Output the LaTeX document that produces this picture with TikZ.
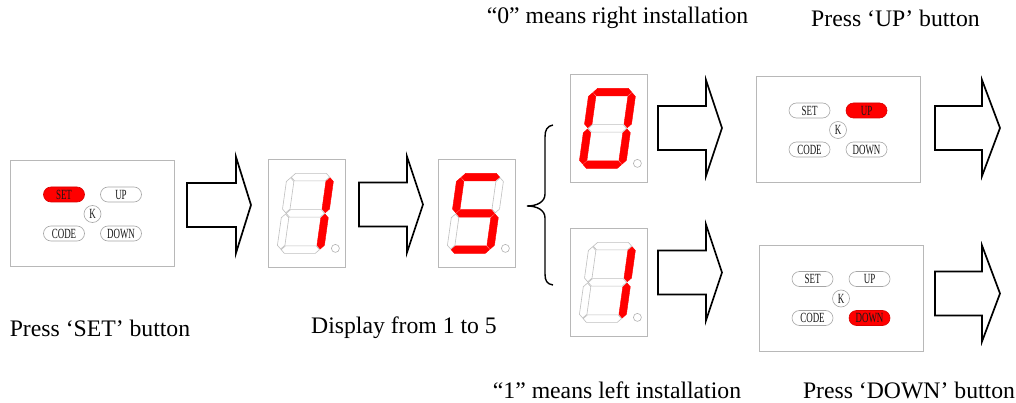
\documentclass[tikz,border=0pt]{standalone}
\usepackage{fontspec}
\setmainfont{Liberation Serif}
\newfontfamily\btnfont[FakeStretch=0.64]{Liberation Serif}
\tikzset{
  panel/.style={draw=black!28, line width=0.8, fill=white, inner sep=0, minimum width=164, minimum height=106},
  dispbox/.style={draw=black!28, line width=0.8, fill=white, inner sep=0, minimum width=77, minimum height=108, anchor=north west},
  btn/.style={draw=black!35, line width=0.6, rounded corners=7.5, minimum width=41, minimum height=15, inner sep=0, text=black!90, font=\btnfont\fontsize{14}{14}\selectfont},
  btnon/.style={btn, fill=red, draw=red!85!black},
  kbtn/.style={circle, draw=black!35, line width=0.6, minimum size=17, inner sep=0, text=black!90, font=\btnfont\fontsize{14}{14}\selectfont},
  segon/.style={fill=red, draw=red, line width=0.4},
  segoff/.style={fill=white, draw=black!25, line width=0.6},
  dp/.style={circle, draw=black!30, line width=0.6, minimum size=8, inner sep=0},
  barrow/.style={draw=black, line width=1.7, fill=white, miter limit=10},
  caption/.style={font=\fontsize{23.7}{28}\selectfont, inner sep=0},
  brace/.style={draw=black, line width=1.4}
}
% keypad: #1 name, #2 center, #3 SET style, #4 UP style, #5 DOWN style
\newcommand\keypad[5]{%
  \node[panel] (#1) at (#2) {};
  \node[#3] (#1set) at ($(#1.center)+(-28.5,-19)$) {SET};
  \node[#4] (#1up) at ($(#1.center)+(28.5,-19)$) {UP};
  \node[kbtn] (#1k) at ($(#1.center)+(0,0.5)$) {K};
  \node[btn] (#1code) at ($(#1.center)+(-28.5,20)$) {CODE};
  \node[#5] (#1down) at ($(#1.center)+(28.5,20)$) {DOWN};
}
% digit: #1 name, #2 top-left, #3 segment styles
\newcommand\digitbox[3]{%
  \node[dispbox] (#1) at (#2) {};
  \begin{scope}[shift={($(#1.center)+(-1.5,0)$)}, xslant=0.14,
      sa/.style=segoff, sb/.style=segoff, sc/.style=segoff, sd/.style=segoff,
      se/.style=segoff, sf/.style=segoff, sg/.style=segoff, #3]
    \path[sa] (-19.15,-36.25) -- (-15.4,-40) -- (15.4,-40) -- (19.15,-36.25) -- (15.4,-32.5) -- (-15.4,-32.5) -- cycle;
    \path[sb] (19.75,-35.65) -- (23.5,-31.9) -- (23.5,-4.35) -- (19.75,-0.6) -- (16,-4.35) -- (16,-31.9) -- cycle;
    \path[sc] (19.75,0.6) -- (23.5,4.35) -- (23.5,31.9) -- (19.75,35.65) -- (16,31.9) -- (16,4.35) -- cycle;
    \path[sd] (-19.15,36.25) -- (-15.4,32.5) -- (15.4,32.5) -- (19.15,36.25) -- (15.4,40) -- (-15.4,40) -- cycle;
    \path[se] (-19.75,0.6) -- (-16,4.35) -- (-16,31.9) -- (-19.75,35.65) -- (-23.5,31.9) -- (-23.5,4.35) -- cycle;
    \path[sf] (-19.75,-35.65) -- (-16,-31.9) -- (-16,-4.35) -- (-19.75,-0.6) -- (-23.5,-4.35) -- (-23.5,-31.9) -- cycle;
    \path[sg] (-19.15,0) -- (-15.4,-3.75) -- (15.4,-3.75) -- (19.15,0) -- (15.4,3.75) -- (-15.4,3.75) -- cycle;
  \end{scope}
  \node[dp] (#1dp) at ($(#1.center)+(28.5,35)$) {};
}
% block arrow: #1 body left x, #2 head x, #3 tip x, #4 center y
\newcommand\blockarrow[4]{%
  \draw[barrow] (#1,#4-22) -- (#2,#4-22) -- (#2,#4-48) -- (#3,#4) -- (#2,#4+48) -- (#2,#4+22) -- (#1,#4+22) -- cycle;
}
\usetikzlibrary{calc}
\begin{document}
\begin{tikzpicture}[x=1pt, y=-1pt]
\useasboundingbox[fill=white] (0,0) rectangle (1016,403);

% step 1: keypad with SET
\keypad{kp1}{92.5,213.5}{btnon}{btn}{btn}
\blockarrow{187}{236}{251}{205}

% display 1 and 5
\digitbox{d1}{268,159}{sb/.style=segon, sc/.style=segon}
\blockarrow{359}{407}{423}{204.5}
\digitbox{d5}{438,159}{sa/.style=segon, sf/.style=segon, sg/.style=segon, sc/.style=segon, sd/.style=segon}

% brace
\coordinate (btop) at (553,125);
\coordinate (bmid) at (527,206);
\coordinate (bbot) at (553,285);
\draw[brace] (btop) .. controls (547,126) and (545,130) .. (545,137) -- (545,194)
  .. controls (545,202) and (537,206) .. (bmid)
  .. controls (537,206) and (545,210) .. (545,218) -- (545,274)
  .. controls (545,281) and (547,284) .. (bbot);

% branch: 0
\digitbox{d0}{570,74}{sa/.style=segon, sb/.style=segon, sc/.style=segon, sd/.style=segon, se/.style=segon, sf/.style=segon}
\blockarrow{658}{706}{722}{128}
\keypad{kpup}{838,129.5}{btn}{btnon}{btn}
\blockarrow{935}{982}{1000}{128}

% branch: 1
\digitbox{d1b}{570,228}{sb/.style=segon, sc/.style=segon}
\blockarrow{658}{706}{722}{272.5}
\keypad{kpdn}{841,298}{btn}{btn}{btnon}
\blockarrow{935}{982}{1000}{293.5}

% captions
\node[caption] (c1) at (100,328) {Press ‘SET’ button};
\node[caption] (c2) at (404,328) {Display from 1 to 5};
\node[caption] (c3) at (617.5,18) {“0” means right installation};
\node[caption] (c4) at (895.5,18) {Press ‘UP’ button};
\node[caption] (c5) at (617,390) {“1” means left installation};
\node[caption] (c6) at (909,390) {Press ‘DOWN’ button};
\end{tikzpicture}
\end{document}
